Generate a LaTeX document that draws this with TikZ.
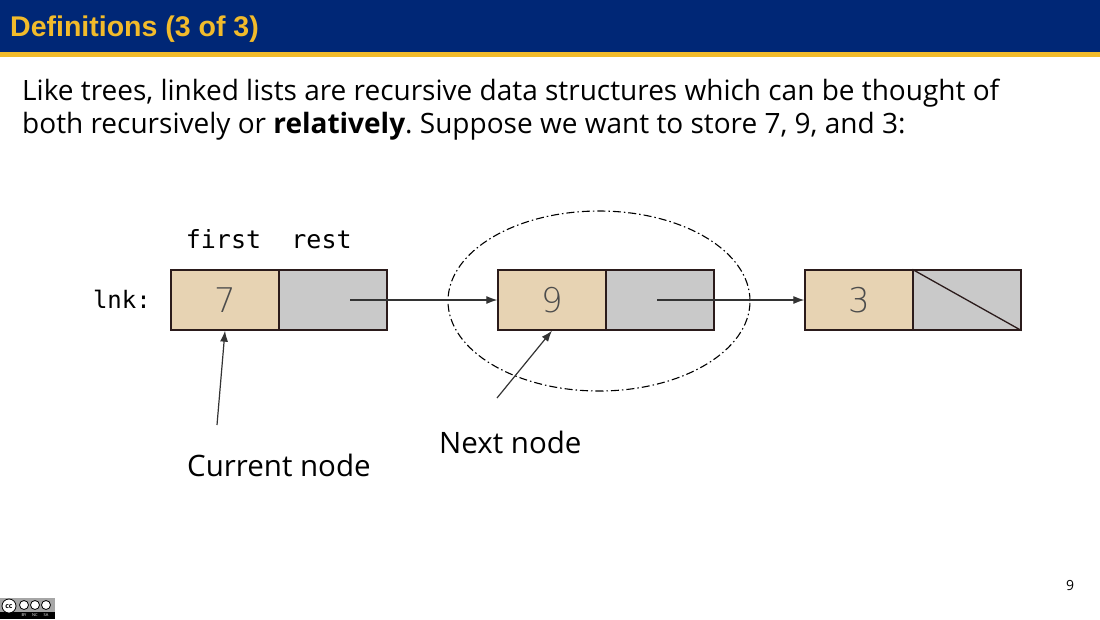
\documentclass[tikz,border=0pt]{standalone}
\usepackage{fontspec}
\setmainfont{Open Sans}
\newfontfamily\titlef{Liberation Sans}
\newfontfamily\monof{DejaVu Sans Mono}
\newfontfamily\thinf{DejaVu Sans ExtraLight}
\usetikzlibrary{arrows.meta,shapes.geometric}
\definecolor{navy}{HTML}{002776}
\definecolor{gold}{HTML}{F2BB2B}
\definecolor{tan}{HTML}{E7D3B3}
\definecolor{cellgray}{HTML}{C9C9C9}
\definecolor{edge}{HTML}{2B1B1B}
\definecolor{arr}{HTML}{333333}
\tikzset{
  cellf/.style={draw=edge,line width=1.3pt,fill=tan,minimum width=108pt,minimum height=60pt,inner sep=0pt,font=\thinf\fontsize{34}{34}\selectfont,text=black!70},
  cellr/.style={draw=edge,line width=1.3pt,fill=cellgray,minimum width=108pt,minimum height=60pt,inner sep=0pt},
  ptr/.style={draw=arr,line width=1.2pt,-{Latex[length=11pt,width=8pt]}},
  body/.style={font=\fontsize{28}{33}\selectfont,anchor=base west,inner sep=0pt},
  lbl/.style={font=\fontsize{29.5}{30}\selectfont,inner sep=0pt},
  mono/.style={font=\monof\fontsize{25}{25}\selectfont,inner sep=0pt}
}
\begin{document}
\frenchspacing
\begin{tikzpicture}[x=1pt,y=-1pt]
\useasboundingbox (0,0) rectangle (1100,619);
\fill[white] (0,0) rectangle (1100,619);
% title bar
\fill[navy] (0,0) rectangle (1100,52);
\fill[gold] (0,52) rectangle (1100,57);
\node[anchor=base west,inner sep=0pt,text=gold,font=\titlef\bfseries\fontsize{28.5}{30}\selectfont] (title) at (10,36) {Definitions (3 of 3)};
% body text
\node[body] (l1) at (22,100) {Like trees, linked lists are recursive data structures which can be thought of};
\node[body] (l2) at (22,133) {both recursively or \textbf{relatively}. Suppose we want to store 7, 9, and 3:};
% cells
\node[cellf] (f1) at (225,300) {7};
\node[cellr] (r1) at (333,300) {};
\node[cellf] (f2) at (552,300) {9};
\node[cellr] (r2) at (660,300) {};
\node[cellf] (f3) at (859,300) {3};
\node[cellr] (r3) at (967,300) {};
\draw[edge,line width=1.3pt] (r3.north west) -- (r3.south east);
% labels
\node[mono,anchor=base] (first) at (223.5,248) {first};
\node[mono,anchor=base] (rest) at (321.5,248) {rest};
\node[mono,anchor=base east,font=\monof\fontsize{24}{24}\selectfont] (lnk) at (151,308) {lnk:};
% ellipse
\node[draw=black,ellipse,line width=1.1pt,dash pattern=on 8pt off 3pt on 1.5pt off 3pt,minimum width=302pt,minimum height=180pt] (grp) at (599,301) {};
% pointers
\draw[ptr] (350,300) -- (f2.west);
\draw[ptr] (657,300) -- (f3.west);
% annotations
\node[lbl,anchor=base west] (cur) at (187,476) {Current node};
\node[lbl,anchor=base west] (nxt) at (439,453) {Next node};
\coordinate (c1) at (217,425);
\coordinate (c2) at (497,398);
\draw[ptr] (c1) -- (f1.south);
\draw[ptr] (c2) -- (f2.south);
% page number
\node[anchor=base,inner sep=0pt,font=\fontsize{14}{14}\selectfont] (pg) at (1070,590) {9};
% cc logo
\fill[black!35] (0,598) rectangle (55,619);
\fill[black] (0,612) rectangle (55,619);
\draw[black,fill=white,line width=0.8pt] (9,606) circle (7);
\node[inner sep=0pt,font=\bfseries\fontsize{7}{7}\selectfont] (cc) at (9,606.5) {cc};
\foreach \cx in {24,35,46} {\draw[black,fill=white,line width=0.8pt] (\cx,605) circle (4.5);}
\node[inner sep=0pt,text=white,font=\fontsize{4}{4}\selectfont] (by) at (24,615.5) {BY};
\node[inner sep=0pt,text=white,font=\fontsize{4}{4}\selectfont] (nc) at (35,615.5) {NC};
\node[inner sep=0pt,text=white,font=\fontsize{4}{4}\selectfont] (sa) at (46,615.5) {SA};
\end{tikzpicture}
\end{document}
